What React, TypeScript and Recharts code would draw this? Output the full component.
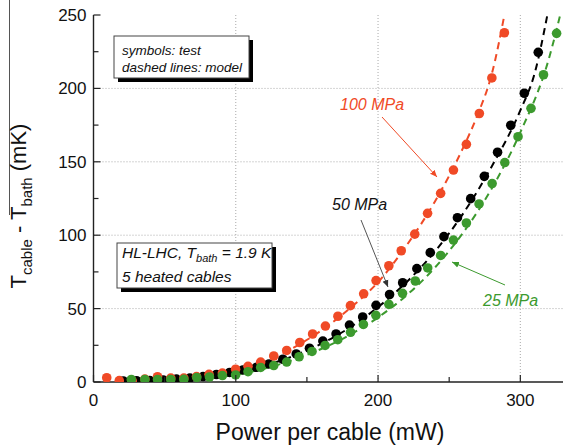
import { ComposedChart, Line, Scatter, XAxis, YAxis, ReferenceLine } from 'recharts';

// test data (symbols): [power mW, dT mK]
const test100MPa: Array<[number, number]> = [
  [9.3, 2.9], [18.1, 1.0], [27.2, 0.8], [36.1, 2.0], [45, 3.6], [54.3, 2.7], [63.5, 2.7], [72.4, 3.7],
  [81.2, 5.2], [90.6, 6.1], [99.9, 8.7], [108.6, 10.7], [117.5, 13.6], [126.7, 17.7], [135.8, 21.5],
  [145, 26.9], [154, 32.7], [163, 38.1], [171.8, 44.8], [180.6, 52], [189.9, 60.1], [198.6, 69.1],
  [207.6, 79.2], [216.3, 89.4], [225.8, 100.7], [234.8, 114.9], [244, 128.5], [253, 144.4],
  [262.1, 161.9], [271.2, 182.9], [280, 207.1], [288.8, 237.9],
];
const test50MPa: Array<[number, number]> = [
  [20.9, 0.7], [30.3, 0.9], [39.6, 1.0], [49, 1.4], [58.3, 2.0], [67.7, 2.7], [77, 3.7], [86.4, 5.1],
  [95.7, 6.5], [105, 8.2], [114.4, 10], [123.3, 12.3], [133.1, 15.5], [142.5, 19.1], [151.8, 23],
  [161.2, 27.9], [170.5, 32.7], [179.9, 38.8], [189.2, 44.3], [198.6, 52.2], [208.1, 59.6],
  [217.3, 67.6], [227.3, 77.2], [236.7, 88.1], [246.3, 99], [255.8, 111.9], [265.1, 124.9],
  [274.7, 140.1], [284, 156.5], [293.3, 174.9], [302.8, 196.7], [312.6, 224.6],
];
const test25MPa: Array<[number, number]> = [
  [26.6, 1.7], [36.1, 1.7], [45, 1.7], [54.3, 1.7], [63.5, 1.8], [72.6, 3.1], [81.5, 3.4], [90.6, 4.4],
  [99.9, 4.8], [108.6, 7], [117.5, 9.9], [126.7, 11.2], [135.8, 13.6], [144.5, 17.2], [153.6, 20.8],
  [162.8, 24.9], [171.7, 28.8], [180.7, 33.9], [189.7, 39.2], [198.5, 45.4], [207.6, 52.9],
  [217.2, 60.4], [226.2, 68.8], [234.9, 77.7], [244, 86.2], [253, 96.7], [262.1, 108.3], [271, 121.3],
  [280.2, 135.2], [289.1, 149.5], [298.4, 167.1], [307.5, 186.4], [316.3, 209.3], [325.5, 237.5],
];

// model curves (dashed lines)
const model100X = [60, 80, 100, 120, 140, 160, 180, 200, 220, 240, 260, 270, 280, 290, 300];
const model100Y = [1, 3, 7.5, 13.5, 23, 35, 50, 68, 93, 123, 160, 182, 210, 256, 310];
const model50X = [60, 80, 100, 120, 140, 160, 180, 200, 220, 240, 260, 280, 300, 310, 320];
const model50Y = [1, 2.5, 6, 11, 17.5, 26, 37, 51, 68, 89, 115, 147, 185, 210, 255];
const model25X = [60, 80, 100, 120, 140, 160, 180, 200, 220, 240, 260, 280, 300, 320, 330];
const model25Y = [1, 2.5, 5, 9, 15, 22.5, 32, 44, 59, 78, 102, 132, 170, 220, 258];

const yTicks = [0, 25, 50, 75, 100, 125, 150, 175, 200, 225, 250];
const xTicks = [0, 50, 100, 150, 200, 250, 300];
const yGrid = [50, 100, 150, 200];
const xGrid = [100, 200, 300];

const RED = '#f04a26';
const BLACK = '#000000';
const GREEN = '#3c9a2e';
const FONT = '"Liberation Sans", Arial, sans-serif';

const toPts = (arr: Array<[number, number]>) => arr.map(([x, y]) => ({ x, y }));
const toLine = (xs: number[], ys: number[]) => xs.map((x, i) => ({ x, y: ys[i] }));

const dot = (color: string) => (p: any) => <circle cx={p.cx} cy={p.cy} r={4.8} fill={color} />;

const LeftTick = (p: any) => {
  const major = p.payload.value % 50 === 0;
  const ax = p.x + 7;
  return (
    <g>
      <line x1={ax} x2={ax + (major ? 7 : 5)} y1={p.y} y2={p.y} stroke="#222" strokeWidth={1.2} />
      {major && (
        <text x={p.x} y={p.y + 6} textAnchor="end" fontSize={17} fill="#111" fontFamily={FONT}>
          {p.payload.value}
        </text>
      )}
    </g>
  );
};

const RightTick = (p: any) => {
  const major = p.payload.value % 50 === 0;
  return <line x1={p.x} x2={p.x - (major ? 8 : 6)} y1={p.y} y2={p.y} stroke="#222" strokeWidth={1.2} />;
};

const BottomTick = (p: any) => {
  const major = p.payload.value % 100 === 0;
  const ay = p.y - 4;
  return (
    <g>
      <line x1={p.x} x2={p.x} y1={ay} y2={ay - (major ? 7 : 5)} stroke="#222" strokeWidth={1.2} />
      {major && (
        <text x={p.x} y={p.y + 20} textAnchor="middle" fontSize={17} fill="#111" fontFamily={FONT}>
          {p.payload.value}
        </text>
      )}
    </g>
  );
};

const TopTick = (p: any) => {
  const major = p.payload.value % 100 === 0;
  return <line x1={p.x} x2={p.x} y1={p.y} y2={p.y + (major ? 7 : 5)} stroke="#222" strokeWidth={1.2} />;
};

const NoteBox = ({ x, y, w, h }: { x: number; y: number; w: number; h: number }) => (
  <g>
    <rect x={x + 4} y={y + 4} width={w} height={h} fill="#000" />
    <rect x={x} y={y} width={w} height={h} fill="#fff" stroke="#444" strokeWidth={1} />
  </g>
);

export default function App() {
  const axisLine = { stroke: '#222', strokeWidth: 1.4 };
  return (
    <div style={{ position: 'absolute', left: 0, top: 0, width: 563, height: 445, background: '#fff' }}>
      <ComposedChart width={563} height={445} margin={{ top: 15, right: 0, bottom: 0, left: 0 }}>
        <XAxis
          xAxisId={0}
          dataKey="x"
          type="number"
          domain={[0, 330]}
          ticks={xTicks}
          allowDataOverflow
          height={63}
          tickSize={0}
          tickMargin={4}
          tickLine={false}
          axisLine={axisLine}
          tick={<BottomTick />}
        />
        <XAxis
          xAxisId="top"
          orientation="top"
          dataKey="x"
          type="number"
          domain={[0, 330]}
          ticks={xTicks}
          allowDataOverflow
          height={0}
          tickSize={0}
          tickMargin={0}
          tickLine={false}
          axisLine={axisLine}
          tick={<TopTick />}
        />
        <YAxis
          yAxisId={0}
          dataKey="y"
          type="number"
          domain={[0, 250]}
          ticks={yTicks}
          allowDataOverflow
          width={93.5}
          tickSize={0}
          tickMargin={7}
          tickLine={false}
          axisLine={axisLine}
          tick={<LeftTick />}
        />
        <YAxis
          yAxisId="right"
          orientation="right"
          type="number"
          domain={[0, 250]}
          ticks={yTicks}
          allowDataOverflow
          width={0}
          tickSize={0}
          tickMargin={0}
          tickLine={false}
          axisLine={axisLine}
          tick={<RightTick />}
        />
        {yGrid.map((v) => (
          <ReferenceLine key={'gy' + v} y={v} stroke="#aaa" strokeDasharray="1 2" />
        ))}
        {xGrid.map((v) => (
          <ReferenceLine key={'gx' + v} x={v} stroke="#aaa" strokeDasharray="1 2" />
        ))}
        <Line data={toLine(model50X, model50Y)} dataKey="y" type="monotone" stroke={BLACK} strokeWidth={2} strokeDasharray="7 5" dot={false} isAnimationActive={false} />
        <Line data={toLine(model25X, model25Y)} dataKey="y" type="monotone" stroke={GREEN} strokeWidth={2} strokeDasharray="7 5" dot={false} isAnimationActive={false} />
        <Line data={toLine(model100X, model100Y)} dataKey="y" type="monotone" stroke={RED} strokeWidth={2} strokeDasharray="7 5" dot={false} isAnimationActive={false} />
        <Scatter data={toPts(test50MPa)} dataKey="y" shape={dot(BLACK)} isAnimationActive={false} />
        <Scatter data={toPts(test100MPa)} dataKey="y" shape={dot(RED)} isAnimationActive={false} />
        <Scatter data={toPts(test25MPa)} dataKey="y" shape={dot(GREEN)} isAnimationActive={false} />
      </ComposedChart>
      <svg
        width={563}
        height={445}
        style={{ position: 'absolute', left: 0, top: 0, pointerEvents: 'none' }}
        fontFamily={FONT}
      >
        <defs>
          <marker id="ahR" markerWidth="8" markerHeight="8" refX="7" refY="4" orient="auto" markerUnits="userSpaceOnUse">
            <path d="M0,1 L7,4 L0,7 Z" fill={RED} />
          </marker>
          <marker id="ahK" markerWidth="8" markerHeight="8" refX="7" refY="4" orient="auto" markerUnits="userSpaceOnUse">
            <path d="M0,1 L7,4 L0,7 Z" fill="#333" />
          </marker>
          <marker id="ahG" markerWidth="8" markerHeight="8" refX="7" refY="4" orient="auto" markerUnits="userSpaceOnUse">
            <path d="M0,1 L7,4 L0,7 Z" fill={GREEN} />
          </marker>
        </defs>
        <line x1={9.5} x2={9.5} y1={0} y2={215} stroke="#555" strokeWidth={1} />
        <text transform="translate(26,206) rotate(-90)" textAnchor="middle" fontSize={22} fill="#111">
          T<tspan fontSize={15} dy={6}>cable</tspan>
          <tspan dy={-6}> - T</tspan>
          <tspan fontSize={15} dy={6}>bath</tspan>
          <tspan dy={-6}> (mK)</tspan>
        </text>
        <text x={330} y={440} textAnchor="middle" fontSize={23} fill="#111">
          Power per cable (mW)
        </text>

        <NoteBox x={114} y={36} w={135} h={42} />
        <text x={122} y={55} fontSize={13.5} fontStyle="italic" fill="#111">symbols: test</text>
        <text x={122} y={72} fontSize={13.5} fontStyle="italic" fill="#111">dashed lines: model</text>

        <NoteBox x={117} y={243} w={155} h={45} />
        <text x={122} y={258} fontSize={15.5} fontStyle="italic" fill="#111">
          HL-LHC, T<tspan fontSize={11} dy={4}>bath</tspan>
          <tspan dy={-4}> = 1.9 K</tspan>
        </text>
        <text x={122} y={282} fontSize={15.5} fontStyle="italic" fill="#111">5 heated cables</text>

        <text x={340} y={110} fontSize={16} fontStyle="italic" fill={RED}>100 MPa</text>
        <line x1={382} y1={117} x2={437} y2={177} stroke={RED} strokeWidth={1} markerEnd="url(#ahR)" />

        <text x={332} y={210} fontSize={16} fontStyle="italic" fill="#111">50 MPa</text>
        <line x1={361} y1={220} x2={388} y2={287} stroke="#555" strokeWidth={1} markerEnd="url(#ahK)" />

        <text x={483} y={306} fontSize={16} fontStyle="italic" fill={GREEN}>25 MPa</text>
        <line x1={505} y1={285} x2={452} y2={262} stroke={GREEN} strokeWidth={1} markerEnd="url(#ahG)" />
      </svg>
    </div>
  );
}
